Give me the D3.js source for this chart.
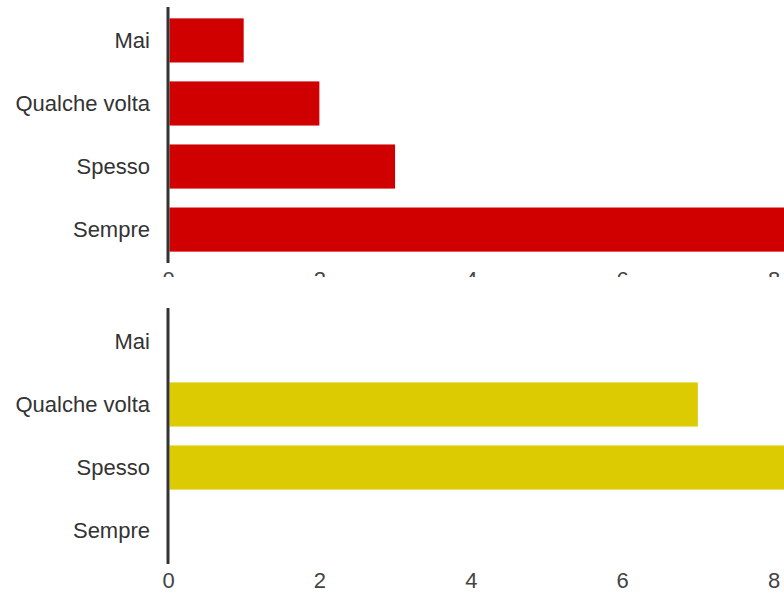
<!DOCTYPE html>
<html>
<head>
<meta charset="utf-8">
<script src="https://cdn.jsdelivr.net/npm/d3@7"></script>
<style>
  body { margin: 0; background: #fff; }
  svg { display: block; }
</style>
</head>
<body>
<div id="chart"></div>
<script>
// answers, same order in both panels
let categories = ['Mai', 'Qualche volta', 'Spesso', 'Sempre'];
// top panel (red) - Sempre runs off the right edge
let topValues = [1, 2, 3, 10];
// bottom panel (yellow) - Spesso runs off the right edge
let bottomValues = [0, 7, 9, 0];
let tickValues = [0, 2, 4, 6, 8];

let width = 784;
let height = 593;
let axisX = 168;

let svg = d3.select('#chart')
  .append('svg')
  .attr('width', width)
  .attr('height', height);

let x = d3.scaleLinear()
  .domain([0, 8])
  .range([axisX, 773.5]);

function panel(values, color, top, bottom) {
  let y = d3.scaleBand()
    .domain(categories)
    .range([top, bottom])
    .paddingInner(0.3)
    .paddingOuter(0.18);

  let g = svg.append('g');

  // white sheet, hides whatever sits under this panel
  g.append('rect')
    .attr('x', 0)
    .attr('y', top - 31)
    .attr('width', width)
    .attr('height', height - top + 31)
    .attr('fill', '#fff');

  g.selectAll('.bar')
    .data(values.map((v, i) => ({ label: categories[i], value: v })))
    .enter()
    .append('rect')
    .attr('class', 'bar')
    .attr('x', axisX + 1.5)
    .attr('y', d => y(d.label))
    .attr('width', d => Math.max(0, x(d.value) - axisX - 1.5))
    .attr('height', y.bandwidth())
    .attr('fill', color);

  // category labels
  g.selectAll('.cat')
    .data(categories)
    .enter()
    .append('text')
    .attr('class', 'cat')
    .attr('x', 150)
    .attr('y', d => y(d) + y.bandwidth() / 2)
    .attr('dy', '0.35em')
    .attr('text-anchor', 'end')
    .style('font-family', '"Liberation Sans", Arial, sans-serif')
    .style('font-size', '22px')
    .style('fill', '#333')
    .text(d => d);

  // value axis labels, no line and no ticks
  let xAxis = d3.axisBottom(x)
    .tickValues(tickValues)
    .tickSize(0)
    .tickPadding(0)
    .tickFormat(d3.format('d'));

  let ax = g.append('g')
    .attr('transform', 'translate(0,' + (bottom + 8) + ')')
    .call(xAxis);
  ax.select('.domain').remove();
  ax.selectAll('text')
    .attr('dy', '0.71em')
    .attr('y', 0)
    .style('font-family', '"Liberation Sans", Arial, sans-serif')
    .style('font-size', '22px')
    .style('fill', '#444');

  // vertical axis line
  g.append('line')
    .attr('x1', axisX)
    .attr('x2', axisX)
    .attr('y1', top)
    .attr('y2', bottom)
    .attr('stroke', '#333')
    .attr('stroke-width', 3);
}

panel(topValues, '#d00000', 7, 263);
panel(bottomValues, '#dccb02', 308, 564);
</script>
</body>
</html>
